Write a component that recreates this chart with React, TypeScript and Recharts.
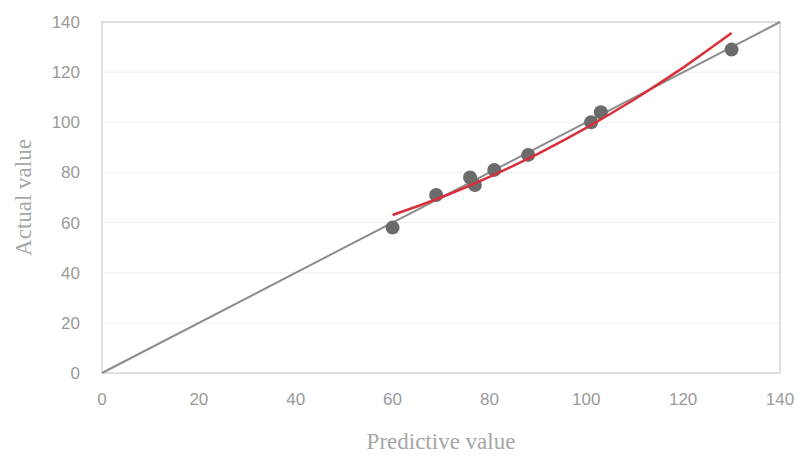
import { ScatterChart, Scatter, XAxis, YAxis, CartesianGrid, ReferenceArea } from "recharts";

// observed points
const predicted = [60, 69, 76, 77, 81, 88, 101, 103, 130];
const actual = [58, 71, 78, 75, 81, 87, 100, 104, 129];

// red trend curve
const trendX = [60, 65, 70, 75, 80, 85, 90, 95, 100, 105, 110, 115, 120, 125, 130];
const trendY = [63, 66.4, 70, 74, 78.2, 82.7, 87.4, 92.5, 97.8, 103.4, 109.2, 115.4, 121.8, 128.6, 135.6];

// y = x reference line
const diagX = [0, 140];
const diagY = [0, 140];

const ticks = [0, 20, 40, 60, 80, 100, 120, 140];

const points = predicted.map((x, i) => ({ x, y: actual[i] }));
const trend = trendX.map((x, i) => ({ x, y: trendY[i] }));
const diag = diagX.map((x, i) => ({ x, y: diagY[i] }));

const tickStyle = { fill: "#9a9a9a", fontSize: 17, fontFamily: "Liberation Sans Narrow, Liberation Sans, sans-serif" };
const titleStyle = { fill: "#a6a6a6", fontSize: 23, fontFamily: "Liberation Serif, serif" };

const Dot = (props: any) => <circle cx={props.cx} cy={props.cy} r={7} fill="#6b6b6b" />;

export default function App() {
  return (
    <div style={{ position: "absolute", left: 0, top: 0, width: 803, height: 457, background: "#fff" }}>
      <ScatterChart width={803} height={457} margin={{ top: 22, right: 23, left: 0, bottom: 34 }}>
        <CartesianGrid vertical={false} stroke="#efefef" />
        <XAxis
          type="number"
          dataKey="x"
          domain={[0, 140]}
          ticks={ticks}
          axisLine={false}
          tickLine={false}
          tick={tickStyle}
          tickMargin={14}
          height={50}
          label={{ value: "Predictive value", position: "insideBottom", offset: -26, style: titleStyle }}
        />
        <YAxis
          type="number"
          dataKey="y"
          domain={[0, 140]}
          ticks={ticks}
          axisLine={false}
          tickLine={false}
          tick={tickStyle}
          tickMargin={16}
          width={102}
          label={{ value: "Actual value", angle: -90, position: "insideLeft", offset: 23, style: { ...titleStyle, textAnchor: "middle" } }}
        />
        <ReferenceArea x1={0} x2={140} y1={0} y2={140} fill="none" stroke="#d6d6d6" strokeWidth={1.5} />
        <Scatter data={diag} line={{ stroke: "#8c8c8c", strokeWidth: 2 }} shape={() => null} isAnimationActive={false} />
        <Scatter data={points} shape={Dot} isAnimationActive={false} />
        <Scatter data={trend} line={{ stroke: "#d8303a", strokeWidth: 2.5 }} shape={() => null} isAnimationActive={false} />
      </ScatterChart>
    </div>
  );
}
